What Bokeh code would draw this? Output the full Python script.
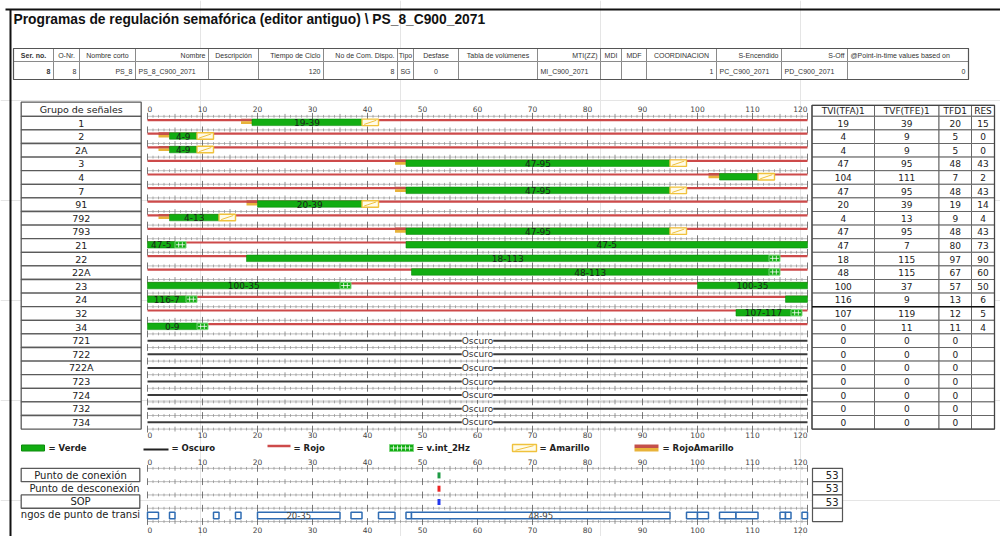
from bokeh.plotting import figure
from bokeh.models import Range1d, ColumnDataSource
from bokeh.core.properties import value
from bokeh.embed import file_html
from bokeh.resources import INLINE

# ---------------- data ----------------
title_text = "Programas de regulación semafórica (editor antiguo)  \\  PS_8_C900_2071"

info_headers = ["Ser. no.", "O-Nr.", "Nombre corto", "Nombre", "Descripción",
                "Tiempo de Ciclo", "No de Com. Dispo.", "Tipo", "Desfase",
                "Tabla de volúmenes", "MTI(ZZ)", "MDI", "MDF", "COORDINACION",
                "S-Encendido", "S-Off", "@Point-in-time values based on"]
info_values = ["8", "8", "PS_8", "PS_8_C900_2071", "", "120", "8", "SG", "0", "",
               "MI_C900_2071", "", "", "1", "PC_C900_2071", "PD_C900_2071", "0"]

cycle_time = 120

groups = ["1", "2", "2A", "3", "4", "7", "91", "792", "793", "21", "22", "22A",
          "23", "24", "32", "34", "721", "722", "722A", "723", "724", "732", "734"]
table_headers = ["TVI(TFA)1", "TVF(TFE)1", "TFD1", "RES"]
tvi = [19, 4, 4, 47, 104, 47, 20, 4, 47, 47, 18, 48, 100, 116, 107, 0, 0, 0, 0, 0, 0, 0, 0]
tvf = [39, 9, 9, 95, 111, 95, 39, 13, 95, 7, 115, 115, 37, 9, 119, 11, 0, 0, 0, 0, 0, 0, 0]
tfd1 = [20, 5, 5, 48, 7, 48, 19, 9, 48, 80, 97, 67, 57, 13, 12, 11, 0, 0, 0, 0, 0, 0, 0]
res = ["15", "0", "0", "43", "2", "43", "14", "4", "43", "73", "90", "60", "50", "6", "5", "4",
       "", "", "", "", "", "", ""]

red_groups = ["1", "2", "2A", "3", "4", "7", "91", "792", "793", "21", "22", "22A",
              "23", "24", "32", "34"]
dark_groups = ["721", "722", "722A", "723", "724", "732", "734"]

ra_groups = ["1", "2", "2A", "3", "4", "7", "91", "792", "793"]
ra_start = [17, 2, 2, 45, 102, 45, 18, 2, 45]
ra_end = [19, 4, 4, 47, 104, 47, 20, 4, 47]

green_groups = ["1", "2", "2A", "3", "4", "7", "91", "792", "793", "21", "21", "22", "22A",
                "23", "23", "24", "24", "32", "34"]
green_start = [19, 4, 4, 47, 104, 47, 20, 4, 47, 0, 47, 18, 48, 0, 100, 0, 116, 107, 0]
green_end = [39, 9, 9, 95, 111, 95, 39, 13, 95, 5, 120, 113, 113, 35, 120, 7, 120, 117, 9]
green_label = ["19-39", "4-9", "4-9", "47-95", "", "47-95", "20-39", "4-13", "47-95",
               "47-5", "47-5", "18-113", "48-113", "100-35", "100-35", "116-7", "",
               "107-117", "0-9"]

amber_groups = ["1", "2", "2A", "3", "4", "7", "91", "792", "793"]
amber_start = [39, 9, 9, 95, 111, 95, 39, 13, 95]
amber_end = [42, 12, 12, 98, 114, 98, 42, 16, 98]

flash_groups = ["21", "22", "22A", "23", "24", "32", "34"]
flash_start = [5, 113, 113, 35, 7, 117, 9]
flash_end = [7, 115, 115, 37, 9, 119, 11]

legend_labels = ["= Verde", "= Oscuro", "= Rojo", "= v.int_2Hz", "= Amarillo", "= RojoAmarillo"]

point_labels = ["Punto de conexión", "Punto de desconexión", "SOP", "ngos de punto de transi"]
point_values = ["53", "53", "53", ""]
point_times = [53, 53, 53]
trans_start = [0, 4, 12, 16, 20, 37, 42, 47, 48, 98, 100, 104, 107, 115, 116, 119]
trans_end = [2, 5, 13, 17, 35, 39, 45, 48, 95, 100, 102, 107, 111, 116, 117, 120]
trans_label = ["", "", "", "", "20-35", "", "", "", "48-95", "", "", "", "", "", "", ""]

# ---------------- styles / layout ----------------
FONT = value("DejaVu Sans")
AFONT = value("Liberation Sans")
GREEN = "#12ad12"
GREEN_EDGE = "#0c8c0c"
RED = "#cd4a4a"
AMBER = "#f0c23c"
RA_AMBER = "#e8b33a"

XL, XR, YT, YB = 0, 1000, 0, 536
T0, SPX = 147.0, 5.5          # screen px of t=0, px per second
ROW0, PITCH = 122.6, 13.6     # main rows
LOW0, LPITCH = 474.5, 13.3    # lower section rows

p = figure(width=XR - XL, height=YB - YT, x_range=Range1d(XL, XR), y_range=Range1d(YB, YT),
           x_axis_location=None, y_axis_location=None,
           output_backend="svg", toolbar_location=None, min_border=0)
p.outline_line_color = None
p.background_fill_color = "white"
p.border_fill_color = "white"
p.extra_x_ranges = {"t": Range1d((XL - T0) / SPX, (XR - T0) / SPX)}
p.extra_y_ranges = {"row": Range1d((YB - ROW0) / PITCH, (YT - ROW0) / PITCH),
                    "low": Range1d((YB - LOW0) / LPITCH, (YT - LOW0) / LPITCH)}

gi = {g: i for i, g in enumerate(groups)}


def rowy(names, off_px=0.0):
    return [gi[n] + off_px / PITCH for n in names]


# ---------------- page frame + title ----------------
p.segment(x0=[5], y0=[9], x1=[1000], y1=[9], line_color="#111", line_width=2)
p.segment(x0=[10], y0=[9], x1=[10], y1=[536], line_color="#111", line_width=2)
p.text(x=[13], y=[18.5], text=[title_text], text_font=AFONT, text_font_style="bold",
       text_font_size="13.8px", text_color="#111", text_baseline="middle")

# ---------------- info table ----------------
edges = [13, 53, 79, 135, 208, 258, 323, 397, 413, 458, 537, 600, 621, 646, 716, 781, 847, 968]
hdr_align = ["center", "center", "center", "right", "center", "right", "right", "center",
             "center", "center", "right", "center", "center", "center", "right", "right", "left"]
val_align = ["right", "right", "right", "left", "left", "right", "right", "center", "center",
             "left", "left", "left", "left", "right", "left", "left", "right"]
nc = len(info_headers)
p.quad(left=edges[:-1], right=edges[1:], top=[48] * nc, bottom=[61] * nc,
       fill_color="white", line_color="#8a8a8a", line_width=1)
p.quad(left=edges[:-1], right=edges[1:], top=[61] * nc, bottom=[79] * nc,
       fill_color="white", line_color="#8a8a8a", line_width=1)
p.quad(left=[edges[0]], right=[edges[-1]], top=[48], bottom=[79], fill_color=None,
       line_color="#555", line_width=1.2)
for texts, aligns, yy in ((info_headers, hdr_align, 54.5), (info_values, val_align, 70.5)):
    for al in ("left", "center", "right"):
        xs, ts, st = [], [], []
        for k in range(nc):
            if aligns[k] != al or texts[k] == "":
                continue
            l, r = edges[k], edges[k + 1]
            xs.append(l + 3 if al == "left" else (r - 3 if al == "right" else (l + r) / 2))
            ts.append(texts[k])
            st.append("bold" if k == 0 else "normal")
        if xs:
            src = ColumnDataSource(dict(x=xs, y=[yy] * len(xs), t=ts, s=st))
            p.text(x="x", y="y", text="t", text_font_style="s", source=src, text_font=AFONT,
                   text_font_size="7px", text_color="#333", text_align=al, text_baseline="middle")

# ---------------- left label table ----------------
n = len(groups)
LX0, LX1 = 20.7, 140.7
p.quad(left=[LX0], right=[LX1], top=[(101.7 - ROW0) / PITCH], bottom=[-0.5],
       fill_color="white", line_color="#5a5a5a", line_width=1.3, y_range_name="row")
p.quad(left=[LX0] * n, right=[LX1] * n, top=[i - 0.5 for i in range(n)],
       bottom=[i + 0.5 for i in range(n)], fill_color="white", line_color="#5a5a5a",
       line_width=1.3, y_range_name="row")
p.text(x=[(LX0 + LX1) / 2], y=[(108.6 - ROW0) / PITCH], text=["Grupo de señales"],
       text_font=FONT, text_font_size="9.5px", text_color="#222", text_align="center",
       text_baseline="middle", y_range_name="row")
p.text(x=[(LX0 + LX1) / 2] * n, y=list(range(n)), text=groups, text_font=FONT,
       text_font_size="9.5px", text_color="#222", text_align="center",
       text_baseline="middle", y_range_name="row")

# ---------------- right value table ----------------
redges = [811.5, 874, 938.5, 971, 994]
htop = (104.8 - ROW0) / PITCH
p.quad(left=redges[:-1], right=redges[1:], top=[htop] * 4, bottom=[-0.5] * 4,
       fill_color="white", line_color="#666", line_width=1, y_range_name="row")
cols = [[str(v) for v in tvi], [str(v) for v in tvf], [str(v) for v in tfd1], res]
for c in range(4):
    p.quad(left=[redges[c]] * n, right=[redges[c + 1]] * n, top=[i - 0.5 for i in range(n)],
           bottom=[i + 0.5 for i in range(n)], fill_color="white", line_color="#666",
           line_width=1, y_range_name="row")
    cx = (redges[c] + redges[c + 1]) / 2
    p.text(x=[cx], y=[(htop - 0.5) / 2], text=[table_headers[c]], text_font=FONT,
           text_font_size="9px", text_color="#222", text_align="center",
           text_baseline="middle", y_range_name="row")
    p.text(x=[cx] * n, y=list(range(n)), text=cols[c], text_font=FONT, text_font_size="9px",
           text_color="#222", text_align="center", text_baseline="middle", y_range_name="row")
p.quad(left=[redges[0]], right=[redges[-1]], top=[htop], bottom=[n - 0.5], fill_color=None,
       line_color="#444", line_width=1.3, y_range_name="row")
sep = gi["32"] - 0.5
p.segment(x0=[redges[0]], x1=[redges[-1]], y0=[sep], y1=[sep], line_color="#111",
          line_width=1.5, y_range_name="row")

# ---------------- rulers ----------------
secs = list(range(cycle_time + 1))


def draw_rulers(nrows, pitch, rng):
    ys = [k - 0.5 for k in range(nrows + 1)]
    p.segment(x0=[0] * len(ys), x1=[cycle_time] * len(ys), y0=ys, y1=ys, line_color="#aaaaaa",
              line_width=0.8, x_range_name="t", y_range_name=rng)
    kinds = ((lambda s: s % 5 != 0, 1.4, "#959595"),
             (lambda s: s % 5 == 0 and s % 10 != 0, 2.4, "#7c7c7c"),
             (lambda s: s % 10 == 0, 3.4, "#555555"))
    for cond, half, col in kinds:
        xs, y0, y1 = [], [], []
        for yk in ys:
            for s in secs:
                if cond(s):
                    xs.append(s)
                    y0.append(yk - half / pitch)
                    y1.append(yk + half / pitch)
        p.segment(x0=xs, x1=xs, y0=y0, y1=y1, line_color=col, line_width=0.8,
                  x_range_name="t", y_range_name=rng)


draw_rulers(n, PITCH, "row")

tick_vals = list(range(0, cycle_time + 1, 10))


def axis_labels(yv, rng):
    for al, vals in (("left", tick_vals[:1]), ("center", tick_vals[1:-1]), ("right", tick_vals[-1:])):
        p.text(x=vals, y=[yv] * len(vals), text=[str(v) for v in vals], text_font=FONT,
               text_font_size="7.5px", text_color="#444", text_align=al,
               text_baseline="middle", x_range_name="t", y_range_name=rng)


axis_labels((108.4 - ROW0) / PITCH, "row")
axis_labels((434.0 - ROW0) / PITCH, "row")

# ---------------- signal states ----------------
TR = dict(x_range_name="t", y_range_name="row")
ry_red = rowy(red_groups, -3.0)
p.segment(x0=[0] * len(ry_red), x1=[cycle_time] * len(ry_red), y0=ry_red, y1=ry_red,
          line_color=RED, line_width=2.2, **TR)
ry_dark = rowy(dark_groups)
p.segment(x0=[0] * len(ry_dark), x1=[cycle_time] * len(ry_dark), y0=ry_dark, y1=ry_dark,
          line_color="#3a3a3a", line_width=2, **TR)
p.text(x=[cycle_time / 2] * len(ry_dark), y=ry_dark, text=["Oscuro"] * len(ry_dark),
       text_font=FONT, text_font_size="9px", text_color="#333", text_align="center",
       text_baseline="middle", background_fill_color="white", **TR)

# red-amber
p.quad(left=ra_start, right=ra_end, top=rowy(ra_groups, -4.4), bottom=rowy(ra_groups, -1.8),
       fill_color="#c4504a", line_color=None, **TR)
p.quad(left=ra_start, right=ra_end, top=rowy(ra_groups, -1.8), bottom=rowy(ra_groups, 0.8),
       fill_color=RA_AMBER, line_color=None, **TR)

# green
p.quad(left=green_start, right=green_end, top=rowy(green_groups, -4.0),
       bottom=rowy(green_groups, 2.5), fill_color=GREEN, line_color=GREEN_EDGE,
       line_width=0.6, **TR)
p.text(x=[(s + e) / 2 for s, e in zip(green_start, green_end)], y=rowy(green_groups, -0.7),
       text=green_label, text_font=FONT, text_font_size="9px", text_color="#1e1e1e",
       text_align="center", text_baseline="middle", **TR)

# amber
p.quad(left=amber_start, right=amber_end, top=rowy(amber_groups, -4.0),
       bottom=rowy(amber_groups, 2.5), fill_color="#fffbe8", line_color=AMBER,
       line_width=1.4, **TR)
p.segment(x0=[s + 0.4 for s in amber_start], x1=[e - 0.4 for e in amber_end],
          y0=rowy(amber_groups, 1.3), y1=rowy(amber_groups, -2.8), line_color=AMBER,
          line_width=1, **TR)

# flashing green
p.quad(left=flash_start, right=flash_end, top=rowy(flash_groups, -4.0),
       bottom=rowy(flash_groups, 2.5), fill_color=GREEN, line_color="#7fd67f",
       line_width=1, **TR)
fy = rowy(flash_groups, -0.75)
p.segment(x0=[s + 0.2 for s in flash_start], x1=[e - 0.2 for e in flash_end], y0=fy, y1=fy,
          line_color="white", line_width=0.8, **TR)
for frac in (1 / 3, 2 / 3):
    xs = [s + (e - s) * frac for s, e in zip(flash_start, flash_end)]
    p.segment(x0=xs, x1=xs, y0=rowy(flash_groups, -3.3), y1=rowy(flash_groups, 1.8),
              line_color="white", line_width=0.8, **TR)

# ---------------- legend ----------------
LY = 447.5
p.quad(left=[21], right=[44], top=[444.5], bottom=[450.5], fill_color=GREEN, line_color=GREEN_EDGE)
p.segment(x0=[143], x1=[168], y0=[449], y1=[449], line_color="#222", line_width=2)
p.segment(x0=[267], x1=[290], y0=[445.5], y1=[445.5], line_color=RED, line_width=2.5)
p.quad(left=[389], right=[413], top=[444], bottom=[451], fill_color=GREEN, line_color="#7fd67f")
p.segment(x0=[393, 397, 401, 405, 409], x1=[393, 397, 401, 405, 409], y0=[445] * 5,
          y1=[450] * 5, line_color="white", line_width=0.8)
p.segment(x0=[390], x1=[412], y0=[447.5], y1=[447.5], line_color="white", line_width=0.8)
p.quad(left=[512], right=[536], top=[444], bottom=[451], fill_color="#fffbe8",
       line_color=AMBER, line_width=1.4)
p.segment(x0=[515], x1=[533], y0=[449.8], y1=[445.2], line_color=AMBER, line_width=1)
p.quad(left=[634], right=[658], top=[444], bottom=[447.5], fill_color="#c4504a", line_color=None)
p.quad(left=[634], right=[658], top=[447.5], bottom=[451], fill_color=RA_AMBER, line_color=None)
p.text(x=[48, 171, 293, 416, 539, 662], y=[LY] * 6, text=legend_labels, text_font=FONT,
       text_font_style="bold", text_font_size="8.5px", text_color="#222",
       text_baseline="middle")

# ---------------- lower section ----------------
TL = dict(x_range_name="t", y_range_name="low")
nl = len(point_labels)
draw_rulers(nl, LPITCH, "low")
axis_labels((461.0 - LOW0) / LPITCH, "low")
axis_labels((529.0 - LOW0) / LPITCH, "low")

p.quad(left=[LX0, LX0], right=[139.3, 139.3], top=[-0.5, 1.5], bottom=[0.5, 2.5],
       fill_color="white", line_color="#5a5a5a", line_width=1.3, y_range_name="low")
p.text(x=[80, 84, 80, 80], y=list(range(nl)), text=point_labels, text_font=FONT,
       text_font_size="10px", text_color="#222", text_align="center", text_baseline="middle",
       y_range_name="low")

p.quad(left=[812] * nl, right=[842] * nl, top=[i - 0.5 for i in range(nl)],
       bottom=[i + 0.5 for i in range(nl)], fill_color="white", line_color="#555",
       line_width=1.2, y_range_name="low")
p.text(x=[838] * nl, y=list(range(nl)), text=point_values, text_font=FONT,
       text_font_size="10px", text_color="#222", text_align="right", text_baseline="middle",
       y_range_name="low")

mk_rows = [0, 1, 2]
p.rect(x=point_times, y=[r + 0.4 / LPITCH for r in mk_rows], width=3, width_units="screen",
       height=6 / LPITCH, fill_color=["#1e9a44", "#ee2525", "#2238ee"], line_color=None, **TL)

tr_row = 3
p.quad(left=trans_start, right=trans_end, top=[tr_row - 2.7 / LPITCH] * len(trans_start),
       bottom=[tr_row + 3.9 / LPITCH] * len(trans_start), fill_color="white",
       line_color="#2f6cb3", line_width=1.5, **TL)
p.text(x=[(s + e) / 2 for s, e in zip(trans_start, trans_end)],
       y=[tr_row + 0.6 / LPITCH] * len(trans_start), text=trans_label, text_font=FONT,
       text_font_size="8.5px", text_color="#444", text_align="center",
       text_baseline="middle", **TL)

open("out.html", "w").write(file_html(p, INLINE, title="Programas de regulación semafórica"))
